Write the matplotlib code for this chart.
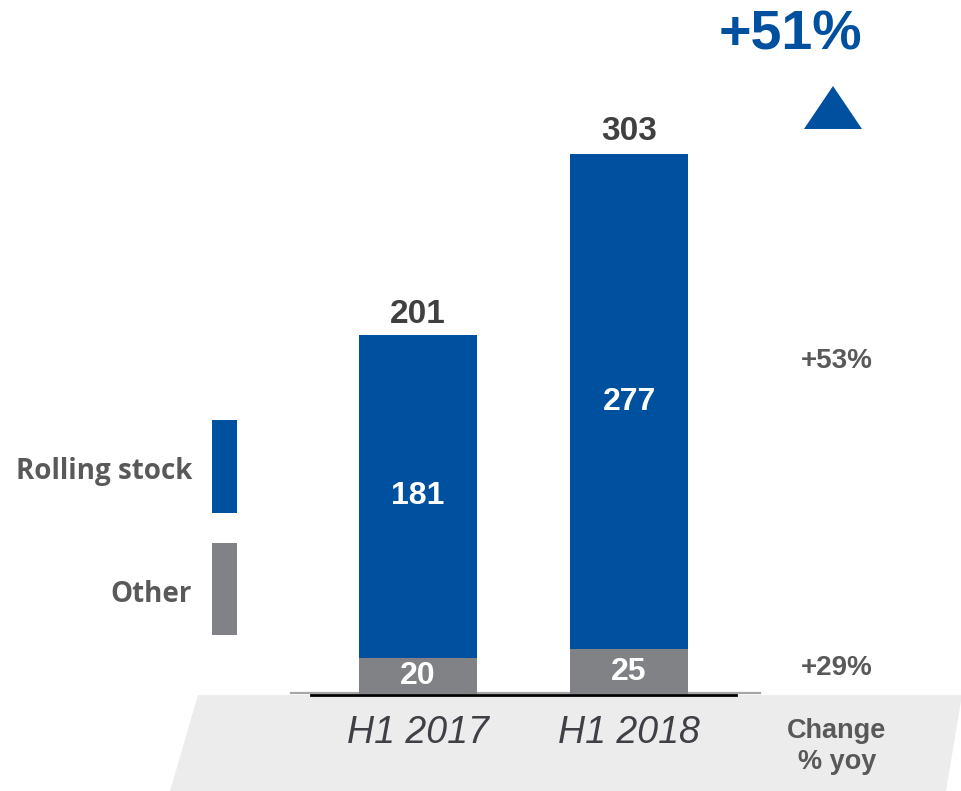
import matplotlib
matplotlib.use('Agg')
import matplotlib.pyplot as plt
import matplotlib.transforms as mtransforms
from matplotlib.patches import Polygon, Rectangle
from matplotlib.lines import Line2D

# data
periods = ['H1 2017', 'H1 2018']
other = [20, 25]
rolling_stock = [181, 277]
totals = [201, 303]
change_labels = ['+53%', '+29%']
total_change = '+51%'

blue = '#0050a0'
grey = '#808285'
dark = '#404040'
mid = '#595959'

plt.rcParams['font.family'] = ['Liberation Sans', 'DejaVu Sans']

fig = plt.figure(figsize=(9.62, 7.91), dpi=100)
ax = fig.add_axes([0, 0, 1, 1])
ax.set_xlim(-1.974, 2.574)
ax.set_ylim(-54.2, 388.0)
ax.axis('off')
ax.set_zorder(1)
ax.patch.set_visible(False)

# pixel coords measured from top-left
px = mtransforms.Affine2D().scale(1 / 962, -1 / 791).translate(0, 1) + fig.transFigure

# grey band under the axis
band = Polygon([(198, 695), (962, 695), (946, 791), (170, 791)], closed=True,
               facecolor='#ececec', edgecolor='none', transform=px, zorder=-1)
fig.patches.append(band)
ax.add_line(Line2D([291, 760], [693, 693], color='#a6a6a6', lw=1.6, transform=px, zorder=1))
ax.add_line(Line2D([311, 736], [695, 695], color='black', lw=2, transform=px, zorder=2))

x = range(len(periods))
b1 = ax.bar(x, other, width=0.558, color=grey, zorder=3)
b2 = ax.bar(x, rolling_stock, bottom=other, width=0.558, color=blue, zorder=3)
ax.bar_label(b1, label_type='center', color='white', fontsize=23, fontweight='bold')
ax.bar_label(b2, label_type='center', color='white', fontsize=23, fontweight='bold')

for i, t in enumerate(totals):
    ax.annotate(str(t), (i, t), xytext=(0, 8.5), textcoords='offset points',
                ha='center', va='baseline', fontsize=24, fontweight='bold', color=dark)

for i, p in enumerate(periods):
    ax.text(i, -22, p, ha='center', va='center', fontsize=27, style='italic', color='#3f3f46')

# legend
fig.patches.append(Rectangle((212, 420), 25, 93, facecolor=blue, transform=px))
fig.patches.append(Rectangle((212, 543), 25, 92, facecolor=grey, transform=px))
fig.text(192, 472, 'Rolling stock', transform=px, ha='right', va='center',
         fontsize=20, fontweight='bold', color=mid, family=['Open Sans', 'DejaVu Sans'])
fig.text(192, 594, 'Other', transform=px, ha='right', va='center',
         fontsize=20, fontweight='bold', color=mid, family=['Open Sans', 'DejaVu Sans'])

# change column
fig.text(837, 361, change_labels[0], transform=px, ha='center', va='center',
         fontsize=20, fontweight='bold', color=mid)
fig.text(837, 668, change_labels[1], transform=px, ha='center', va='center',
         fontsize=20, fontweight='bold', color=mid)
fig.text(837, 731, 'Change', transform=px, ha='center', va='center',
         fontsize=19.5, fontweight='bold', color=mid)
fig.text(837, 762, '% yoy', transform=px, ha='center', va='center',
         fontsize=19.5, fontweight='bold', color=mid)

fig.text(790, 35, total_change, transform=px, ha='center', va='center',
         fontsize=40, fontweight='bold', color=blue)
fig.patches.append(Polygon([(804, 129), (862, 129), (833, 86)], closed=True,
                           facecolor=blue, edgecolor='none', transform=px))

fig.savefig('out.png', dpi=100)
